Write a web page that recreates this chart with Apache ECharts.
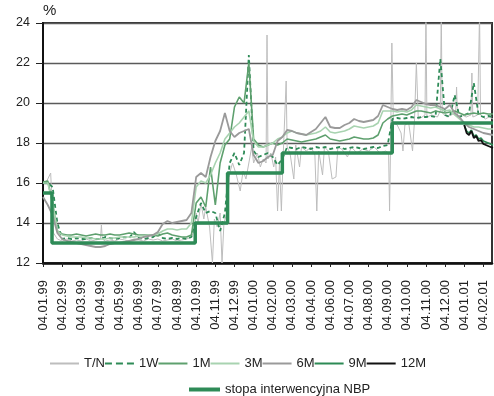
<!DOCTYPE html>
<html>
<head>
<meta charset="utf-8">
<script src="https://cdn.jsdelivr.net/npm/echarts@6/dist/echarts.min.js"></script>
<style>
  html, body { margin: 0; padding: 0; background: #fff; }
  #chart { width: 494px; height: 396px; }
</style>
</head>
<body>
<div id="chart"></div>
<script>
// x is measured in "label steps": 0 = 04.01.99, 1 = 04.02.99, ...
const tickLabels = ['04.01.99', '04.02.99', '04.03.99', '04.04.99', '04.05.99', '04.06.99',
  '04.07.99', '04.08.99', '04.10.99', '04.11.99', '04.12.99', '04.01.00', '04.02.00',
  '04.03.00', '04.04.00', '04.06.00', '04.07.00', '04.08.00', '04.09.00', '04.10.00',
  '04.11.00', '04.12.00', '04.01.01', '04.02.01'];

// weekly-ish readings, one value every 0.25 step from x = 0
const STEP = 0.25;
const w1 = [16.0, 16.0, 15.8, 14.0, 13.2, 13.25, 13.2, 13.25, 13.2, 13.2, 13.25, 13.2, 13.2, 13.3, 13.25, 13.2,
  13.25, 13.3, 13.25, 13.55, 13.25, 13.2, 13.25, 13.3, 13.5, 13.25, 13.2, 13.25, 13.2, 13.25, 13.2, 13.3,
  14.3, 15.0, 14.5, 14.6, 14.5, 13.6, 14.5, 17.0, 17.5, 16.9, 17.5, 22.4, 17.6, 17.3, 17.4, 17.5,
  17.3, 16.9, 17.2, 17.8, 17.75, 17.7, 17.8, 17.75, 17.7, 17.8, 17.75, 17.8, 17.7, 17.75, 17.8, 17.7,
  17.75, 17.8, 17.75, 17.7, 17.75, 17.8, 17.75, 17.85, 17.9, 19.2, 19.25, 19.2, 19.25, 19.3, 19.25, 19.3,
  19.3, 19.35, 19.3, 22.2, 19.4, 19.3, 20.4, 19.3, 19.4, 19.5, 21.0, 19.4, 19.3, 19.35, 19.3];
const m1 = [16.05, 16.1, 15.0, 13.6, 13.45, 13.4, 13.4, 13.45, 13.4, 13.35, 13.4, 13.45, 13.4, 13.4, 13.45, 13.4,
  13.4, 13.45, 13.5, 13.45, 13.4, 13.4, 13.4, 13.4, 13.35, 13.45, 13.5, 13.4, 13.35, 13.3, 13.3, 13.4,
  15.0, 15.3, 14.8, 16.8, 14.9, 17.0, 17.9, 18.2, 19.8, 20.3, 20.0, 22.0, 18.2, 17.9, 17.8, 17.9,
  18.0, 17.9, 18.0, 18.2, 18.15, 18.1, 18.05, 18.1, 18.15, 18.2, 18.3, 18.4, 18.2, 18.15, 18.1, 18.15,
  18.2, 18.3, 18.25, 18.2, 18.2, 18.25, 18.4, 19.0, 19.2, 19.35, 19.4, 19.45, 19.4, 19.5, 19.6, 19.6,
  19.55, 19.5, 19.6, 19.55, 19.5, 19.55, 19.6, 19.5, 19.4, 19.45, 19.5, 19.45, 19.5, 19.45, 19.45];
const m3 = [16.0, 16.0, 15.0, 13.6, 13.4, 13.35, 13.3, 13.3, 13.3, 13.25, 13.25, 13.2, 13.2, 13.2, 13.25, 13.25,
  13.3, 13.3, 13.3, 13.3, 13.35, 13.35, 13.4, 13.4, 13.45, 13.6, 13.7, 13.7, 13.65, 13.7, 13.7, 14.0,
  15.8, 16.1, 16.0, 16.4, 17.0, 17.5, 18.2, 18.5, 18.8, 19.0, 19.3, 19.6, 18.1, 17.8, 17.8, 17.9,
  18.0, 18.2, 18.3, 18.5, 18.6, 18.5, 18.45, 18.4, 18.45, 18.5, 18.6, 18.8, 18.55, 18.5, 18.55, 18.6,
  18.7, 18.85, 18.8, 18.75, 18.8, 18.85, 19.0, 19.6, 19.6, 19.6, 19.55, 19.6, 19.55, 19.65, 19.9, 19.85,
  19.8, 19.75, 19.8, 19.7, 19.6, 19.65, 19.4, 19.2, 19.0, 18.9, 18.8, 18.8, 18.75, 18.7, 18.7];
const m6 = [15.3, 14.9, 14.4, 13.5, 13.2, 13.1, 13.05, 13.0, 12.95, 12.9, 12.85, 12.8, 12.8, 12.85, 12.95, 13.0,
  13.0, 13.05, 13.1, 13.15, 13.2, 13.3, 13.35, 13.4, 13.55, 13.95, 14.1, 14.0, 14.05, 14.1, 14.15, 14.5,
  16.3, 16.5, 16.3, 17.3, 18.1, 18.6, 19.5, 18.6, 18.3, 18.5, 18.6, 18.7, 17.4, 17.0, 17.1, 17.3,
  17.4, 18.1, 18.3, 18.65, 18.6, 18.5, 18.45, 18.4, 18.55, 18.7, 19.0, 19.3, 18.8, 18.75, 18.75, 18.9,
  19.0, 19.2, 19.1, 19.05, 19.1, 19.15, 19.35, 19.9, 19.8, 19.7, 19.65, 19.7, 19.65, 19.8, 20.15, 20.05,
  19.95, 19.9, 19.9, 19.8, 19.7, 19.9, 19.5, 19.3, 19.0, 18.8, 18.7, 18.6, 18.5, 18.45, 18.4];

// 9M and 12M only from early January 2001, every 0.125 step
const LONG_START = 22;
const LONG_STEP = 0.125;
const m9 = [18.9, 18.6, 18.5, 18.65, 18.35, 18.4, 18.2, 18.25, 18.1, 18.05, 18.0, 17.95, 17.9];
const m12 = [18.9, 18.5, 18.4, 18.6, 18.25, 18.35, 18.1, 18.15, 17.95, 17.9, 17.85, 17.8, 17.75];

// T/N is spiky, so it keeps its own positions
const tnPoints = [[0, 16.0], [0.2, 16.1], [0.4, 16.5], [0.45, 15.5], [0.55, 13.5], [0.75, 13.2],
  [1.0, 13.1], [1.25, 13.2], [1.5, 13.1], [1.75, 13.15], [2.0, 13.1], [2.25, 13.2], [2.5, 13.1],
  [2.75, 13.15], [3.0, 13.2], [3.05, 13.9], [3.1, 13.2], [3.25, 13.1], [3.5, 13.15], [3.75, 13.1],
  [4.0, 13.2], [4.25, 13.15], [4.5, 13.1], [4.75, 13.2], [5.0, 13.15], [5.25, 13.1], [5.5, 13.2],
  [5.75, 13.15], [6.0, 13.2], [6.25, 13.1], [6.5, 13.15], [6.75, 13.2], [7.0, 13.1], [7.25, 13.15],
  [7.5, 13.2], [7.75, 13.3], [7.9, 13.6], [8.0, 14.5], [8.1, 14.0], [8.25, 15.0], [8.4, 14.2],
  [8.5, 14.8], [8.7, 13.8], [8.85, 12.0], [8.95, 14.2], [9.1, 13.8], [9.25, 14.5], [9.35, 12.0],
  [9.45, 14.0], [9.6, 14.5], [9.75, 16.5], [9.9, 17.0], [10.1, 16.4], [10.3, 15.6], [10.45, 16.6],
  [10.6, 16.2], [10.75, 17.0], [10.9, 17.8], [11.0, 17.0], [11.2, 17.5], [11.35, 16.8], [11.5, 17.2],
  [11.65, 17.0], [11.7, 23.4], [11.75, 17.2], [11.9, 17.5], [12.05, 16.8], [12.15, 17.3], [12.25, 14.6],
  [12.35, 17.0], [12.45, 14.6], [12.55, 17.5], [12.65, 17.6], [12.7, 21.1], [12.75, 17.8], [12.9, 17.5],
  [13.1, 16.2], [13.2, 17.9], [13.4, 16.8], [13.5, 17.8], [13.75, 17.6], [14.0, 17.8], [14.2, 17.4],
  [14.3, 14.6], [14.4, 17.6], [14.6, 16.4], [14.7, 17.8], [14.9, 17.6], [15.1, 16.2], [15.3, 16.3],
  [15.4, 17.8], [15.6, 17.7], [15.9, 17.3], [16.1, 17.8], [16.4, 17.5], [16.7, 17.7], [17.0, 17.6],
  [17.3, 17.8], [17.6, 17.5], [17.9, 17.6], [18.05, 17.5], [18.1, 14.6], [18.15, 17.8], [18.22, 23.0],
  [18.3, 19.0], [18.5, 18.9], [18.7, 18.5], [18.8, 17.6], [18.9, 18.9], [19.1, 19.0], [19.3, 17.6],
  [19.4, 19.1], [19.5, 22.0], [19.6, 19.2], [19.8, 19.3], [19.95, 19.4], [20.0, 24.5], [20.05, 19.3],
  [20.3, 19.4], [20.6, 19.3], [20.75, 19.6], [20.8, 24.5], [20.85, 19.5], [21.1, 19.3], [21.3, 19.4],
  [21.55, 19.5], [21.6, 20.8], [21.65, 19.3], [21.9, 19.4], [22.1, 19.3], [22.35, 19.4], [22.4, 21.5],
  [22.45, 19.3], [22.7, 19.4], [22.75, 19.5], [22.8, 24.5], [22.85, 19.4], [23.1, 19.2], [23.3, 19.3],
  [23.5, 19.2]];

// NBP intervention rate: value holds from each change point
const nbpX = [0, 0.47, 7.95, 9.64, 12.5, 18.24, 23.5];
const nbpY = [15.5, 13.0, 14.0, 16.5, 17.5, 19.0, 19.0];

const stepped = (arr) => arr.map((v, i) => [i * STEP, v]);
const fromLong = (arr) => arr.map((v, i) => [LONG_START + i * LONG_STEP, v]);

const chart = echarts.init(document.getElementById('chart'));
const font = "'Liberation Sans', Arial, sans-serif";

const line = (name, data, color, width, extra) => Object.assign({
  name: name,
  type: 'line',
  data: data,
  showSymbol: false,
  symbol: 'none',
  lineStyle: { color: color, width: width },
  itemStyle: { color: color },
  animation: false
}, extra || {});

const dashIcon = 'path://M0,0h7v2h-7zM11,0h7v2h-7zM22,0h7v2h-7z';
const legendText = { fontFamily: font, fontSize: 13, color: '#222' };

const option = {
  animation: false,
  grid: {
    left: 43, top: 23, width: 449, height: 240,
    show: true, borderColor: '#333', borderWidth: 2
  },
  legend: [
    {
      data: [
        { name: 'T/N', icon: 'rect' },
        { name: '1W', icon: dashIcon },
        { name: '1M', icon: 'rect' },
        { name: '3M', icon: 'rect' },
        { name: '6M', icon: 'rect' },
        { name: '9M', icon: 'rect' },
        { name: '12M', icon: 'rect' }
      ],
      left: 50, top: 357, padding: 0, itemWidth: 29, itemHeight: 2, itemGap: 0,
      symbolKeepAspect: false,
      textStyle: Object.assign({ width: 28 }, legendText)
    },
    {
      data: [{ name: 'stopa interwencyjna NBP', icon: 'rect' }],
      left: 189, top: 383, padding: 0, itemWidth: 31, itemHeight: 4,
      textStyle: legendText
    }
  ],
  xAxis: {
    type: 'value', min: 0, max: 23.45, interval: 1,
    axisLine: { lineStyle: { color: '#111', width: 2.5 } },
    axisTick: { show: true, length: 4, lineStyle: { color: '#222' } },
    splitLine: { show: false },
    axisLabel: {
      rotate: 90, margin: 17, fontFamily: font, fontSize: 13, color: '#222',
      showMaxLabel: false,
      formatter: (v) => tickLabels[v] || ''
    }
  },
  yAxis: {
    type: 'value', min: 12, max: 24, interval: 2,
    name: '%', nameLocation: 'end', nameGap: 12,
    nameTextStyle: { fontFamily: font, fontSize: 15, color: '#222', align: 'left', verticalAlign: 'middle' },
    axisLine: { show: true, lineStyle: { color: '#111', width: 2 } },
    axisTick: { show: true, length: 7, lineStyle: { color: '#222' } },
    splitLine: { lineStyle: { color: '#5a5a5a', width: 1.3 } },
    axisLabel: { margin: 13, fontFamily: font, fontSize: 12.5, color: '#222' }
  },
  series: [
    line('T/N', tnPoints, '#bdbdbd', 1),
    line('1W', stepped(w1), '#2e8b57', 1.8, { lineStyle: { color: '#2e8b57', width: 1.8, type: [4, 3] } }),
    line('1M', stepped(m1), '#5ea06e', 1.6),
    line('3M', stepped(m3), '#a8d3b0', 1.6),
    line('6M', stepped(m6), '#9a9a9a', 1.8),
    line('9M', fromLong(m9), '#2d8a55', 1.6),
    line('12M', fromLong(m12), '#111111', 1.8),
    line('stopa interwencyjna NBP', nbpX.map((x, i) => [x, nbpY[i]]), '#2e8b57', 3.5, { step: 'end' })
  ]
};

chart.setOption(option);
</script>
</body>
</html>
